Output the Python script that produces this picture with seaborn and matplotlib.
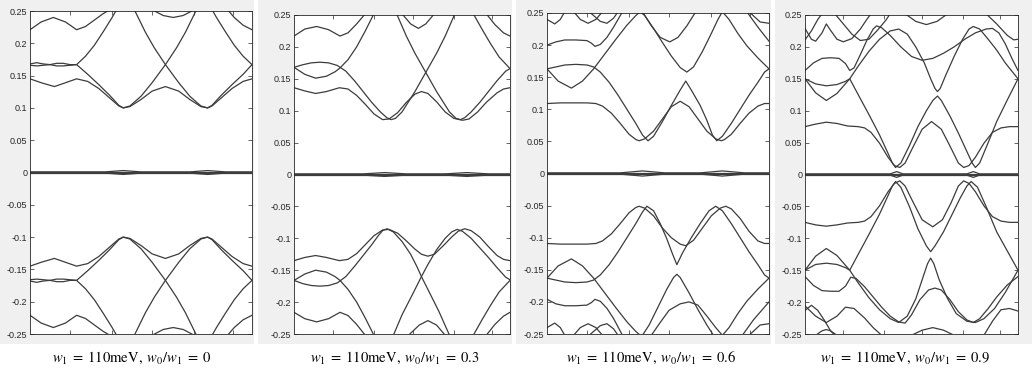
import numpy as np
import pandas as pd
import seaborn as sns
import matplotlib.pyplot as plt
from matplotlib.patches import Rectangle

# ---- band data, k runs 0..1 along the path, energies in eV ----
P1_UP = [
    [(0, .145), (.05, .139), (.11, .133), (.16, .139), (.21, .145), (.26, .141), (.31, .130), (.36, .115), (.40, .103), (.42, .100), (.45, .102), (.50, .113), (.55, .126), (.61, .133), (.67, .126), (.72, .113), (.77, .102), (.80, .100), (.82, .103), (.86, .115), (.91, .130), (.96, .141), (1, .145)],
    [(0, .168), (.03, .170), (.06, .168), (.09, .167), (.12, .169), (.15, .169), (.18, .167), (.21, .167), (.26, .152), (.31, .136), (.36, .119), (.40, .104), (.42, .100), (.45, .103), (.50, .118), (.55, .139), (.61, .167), (.66, .193), (.70, .217), (.75, .252)],
    [(.47, .252), (.52, .217), (.56, .193), (.61, .167), (.67, .139), (.72, .118), (.77, .103), (.80, .100), (.82, .104), (.86, .119), (.91, .136), (.96, .152), (1, .167)],
    [(0, .166), (.03, .165), (.06, .166), (.09, .167), (.12, .165), (.15, .165), (.18, .166), (.21, .167), (.25, .180), (.29, .197), (.33, .218), (.37, .240), (.39, .252)],
    [(0, .221), (.05, .233), (.105, .240), (.16, .233), (.21, .221), (.25, .226), (.29, .236), (.33, .246), (.36, .252)],
    [(.55, .252), (.60, .243), (.645, .240), (.69, .243), (.74, .252)],
    [(.82, .252), (.84, .240), (.88, .218), (.92, .197), (.96, .180), (1, .167)],
    [(.89, .252), (.92, .240), (.96, .228), (1, .221)],
]
P1_LO = [
    [(0, -.145), (.05, -.139), (.11, -.133), (.16, -.139), (.21, -.145), (.26, -.141), (.31, -.130), (.36, -.115), (.40, -.103), (.42, -.100), (.45, -.102), (.50, -.113), (.55, -.126), (.61, -.133), (.67, -.126), (.72, -.113), (.77, -.102), (.80, -.100), (.82, -.103), (.86, -.115), (.91, -.130), (.96, -.141), (1, -.145)],
    [(0, -.168), (.03, -.170), (.06, -.168), (.09, -.167), (.12, -.169), (.15, -.169), (.18, -.167), (.21, -.167), (.26, -.152), (.31, -.136), (.36, -.119), (.40, -.104), (.42, -.100), (.45, -.103), (.50, -.118), (.55, -.139), (.61, -.167), (.66, -.193), (.70, -.217), (.75, -.252)],
    [(.47, -.252), (.52, -.217), (.56, -.193), (.61, -.167), (.67, -.139), (.72, -.118), (.77, -.103), (.80, -.100), (.82, -.104), (.86, -.119), (.91, -.136), (.96, -.152), (1, -.167)],
    [(0, -.166), (.03, -.165), (.06, -.166), (.09, -.167), (.12, -.165), (.15, -.165), (.18, -.166), (.21, -.167), (.25, -.180), (.29, -.197), (.33, -.218), (.37, -.240), (.39, -.252)],
    [(0, -.221), (.05, -.233), (.105, -.240), (.16, -.233), (.21, -.221), (.25, -.226), (.29, -.236), (.33, -.246), (.36, -.252)],
    [(.55, -.252), (.60, -.243), (.645, -.240), (.69, -.243), (.74, -.252)],
    [(.82, -.252), (.84, -.240), (.88, -.218), (.92, -.197), (.96, -.180), (1, -.167)],
    [(.89, -.252), (.92, -.240), (.96, -.228), (1, -.221)],
]
P1_ZERO = [
    [(0, .0006), (1, .0006)],
    [(0, -.0006), (1, -.0006)],
    [(0, .001), (.34, .001), (.42, .003), (.50, .001), (.72, .001), (.80, .003), (.88, .001), (1, .001)],
    [(0, -.001), (.34, -.001), (.42, -.003), (.50, -.001), (.72, -.001), (.80, -.003), (.88, -.001), (1, -.001)],
]

P2_UP = [
    [(0, .136), (.05, .131), (.10, .127), (.15, .130), (.21, .136), (.25, .134), (.29, .124), (.33, .110), (.37, .095), (.41, .086), (.44, .087), (.48, .097), (.52, .113), (.56, .126), (.59, .130), (.62, .127), (.66, .114), (.70, .098), (.74, .088), (.78, .085), (.81, .087), (.85, .098), (.89, .113), (.94, .128), (.97, .134), (1, .136)],
    [(0, .168), (.04, .172), (.08, .175), (.12, .176), (.16, .175), (.20, .171), (.24, .162), (.28, .147), (.32, .130), (.36, .113), (.40, .098), (.43, .089), (.45, .086), (.47, .088), (.50, .098), (.53, .114), (.56, .130), (.59, .148), (.62, .166), (.66, .190), (.70, .217), (.745, .252)],
    [(.475, .252), (.52, .217), (.56, .190), (.60, .166), (.63, .148), (.66, .130), (.69, .114), (.72, .098), (.75, .088), (.77, .086), (.79, .089), (.82, .098), (.86, .113), (.90, .130), (.94, .147), (.98, .162), (1, .166)],
    [(0, .168), (.05, .157), (.10, .151), (.15, .154), (.19, .161), (.213, .167), (.25, .180), (.29, .200), (.33, .225), (.37, .252)],
    [(0, .217), (.05, .228), (.105, .232), (.16, .227), (.213, .217), (.25, .222), (.29, .236), (.33, .252)],
    [(.50, .252), (.54, .236), (.576, .229), (.61, .236), (.65, .252)],
    [(.83, .252), (.87, .228), (.91, .205), (.95, .184), (1, .166)],
    [(.89, .252), (.93, .235), (.97, .222), (1, .217)],
]
P2_LO = [
    [(0, -.135), (.05, -.130), (.10, -.127), (.15, -.130), (.21, -.135), (.25, -.133), (.29, -.124), (.33, -.110), (.37, -.096), (.41, -.087), (.44, -.086), (.48, -.092), (.52, -.104), (.56, -.117), (.59, -.125), (.62, -.128), (.65, -.125), (.69, -.112), (.73, -.098), (.76, -.089), (.79, -.085), (.82, -.088), (.86, -.098), (.90, -.113), (.94, -.127), (.97, -.133), (1, -.135)],
    [(0, -.166), (.04, -.171), (.08, -.174), (.12, -.175), (.16, -.174), (.20, -.170), (.24, -.160), (.28, -.144), (.32, -.127), (.36, -.110), (.39, -.096), (.41, -.088), (.43, -.085), (.46, -.090), (.50, -.105), (.54, -.125), (.57, -.145), (.59, -.160), (.63, -.187), (.67, -.214), (.72, -.252)],
    [(.46, -.252), (.50, -.220), (.55, -.187), (.59, -.160), (.62, -.141), (.66, -.118), (.70, -.100), (.73, -.090), (.755, -.086), (.78, -.089), (.82, -.100), (.86, -.115), (.90, -.130), (.94, -.146), (.98, -.161), (1, -.165)],
    [(0, -.166), (.05, -.156), (.10, -.150), (.15, -.153), (.19, -.160), (.213, -.166), (.25, -.180), (.29, -.200), (.33, -.225), (.37, -.252)],
    [(0, -.216), (.05, -.226), (.105, -.231), (.16, -.226), (.213, -.216), (.25, -.221), (.29, -.235), (.33, -.252)],
    [(.53, -.252), (.58, -.236), (.62, -.229), (.66, -.236), (.70, -.252)],
    [(.83, -.252), (.87, -.228), (.91, -.205), (.95, -.184), (1, -.166)],
    [(.89, -.252), (.93, -.235), (.97, -.222), (1, -.216)],
]
P2_ZERO = [
    [(0, .0006), (1, .0006)],
    [(0, -.0006), (1, -.0006)],
    [(0, .001), (.32, .001), (.42, .003), (.52, .001), (.70, .001), (.80, .003), (.90, .001), (1, .001)],
    [(0, -.001), (.32, -.001), (.42, -.003), (.52, -.001), (.70, -.001), (.80, -.003), (.90, -.001), (1, -.001)],
]

P3_UP = [
    [(0, .109), (.06, .110), (.12, .110), (.18, .110), (.22, .109), (.25, .105), (.29, .094), (.33, .078), (.37, .061), (.40, .053), (.415, .051), (.44, .054), (.48, .066), (.52, .085), (.56, .104), (.60, .1125), (.64, .104), (.68, .085), (.72, .066), (.76, .054), (.785, .051), (.80, .053), (.83, .061), (.87, .078), (.91, .094), (.95, .105), (.98, .109), (1, .109)],
    [(0, .163), (.04, .166), (.08, .169), (.13, .170), (.18, .169), (.21, .166), (.24, .158), (.28, .142), (.32, .122), (.36, .100), (.40, .078), (.43, .060), (.455, .051), (.48, .058), (.52, .081), (.56, .106), (.60, .130), (.625, .144), (.65, .130), (.69, .106), (.72, .083), (.745, .060), (.765, .051), (.79, .058), (.83, .078), (.87, .100), (.91, .122), (.95, .142), (.98, .158), (1, .163)],
    [(0, .163), (.05, .144), (.11, .133), (.16, .144), (.21, .163), (.26, .186), (.31, .209), (.36, .231), (.40, .246), (.42, .252), (.44, .246), (.48, .226), (.52, .204), (.56, .183), (.60, .165), (.63, .158), (.66, .166), (.70, .190), (.74, .218), (.77, .240), (.79, .252), (.82, .240), (.86, .218), (.90, .199), (.95, .180), (1, .163)],
    [(0, .200), (.04, .205), (.08, .208), (.13, .208), (.18, .207), (.20, .203), (.216, .198), (.24, .201), (.27, .212), (.30, .228), (.34, .252)],
    [(.43, .252), (.47, .230), (.51, .212), (.553, .205), (.59, .212), (.63, .230), (.67, .252)],
    [(0, .240), (.035, .233), (.06, .240), (.08, .252)],
    [(.12, .252), (.15, .240), (.185, .234), (.22, .240), (.25, .252)],
    [(.19, .252), (.24, .237), (.27, .234), (.30, .242), (.32, .252)],
    [(.91, .252), (.96, .236), (1, .234)],
    [(.90, .252), (.95, .228), (1, .206)],
]
P3_LO = [
    [(0, -.109), (.06, -.110), (.12, -.110), (.18, -.110), (.22, -.109), (.25, -.105), (.29, -.094), (.33, -.078), (.37, -.061), (.40, -.053), (.415, -.051), (.44, -.054), (.48, -.066), (.52, -.085), (.56, -.100), (.60, -.110), (.625, -.1125), (.66, -.104), (.70, -.085), (.74, -.066), (.78, -.054), (.805, -.051), (.83, -.055), (.87, -.070), (.91, -.090), (.95, -.105), (.98, -.109), (1, -.109)],
    [(0, -.163), (.04, -.166), (.08, -.169), (.13, -.170), (.18, -.169), (.21, -.166), (.24, -.158), (.28, -.142), (.32, -.122), (.36, -.100), (.40, -.078), (.43, -.060), (.45, -.051), (.48, -.058), (.51, -.078), (.54, -.102), (.565, -.125), (.585, -.142), (.61, -.124), (.65, -.100), (.69, -.078), (.73, -.058), (.76, -.051), (.79, -.058), (.83, -.078), (.87, -.100), (.91, -.122), (.95, -.142), (.98, -.158), (1, -.163)],
    [(0, -.163), (.05, -.144), (.11, -.133), (.16, -.144), (.21, -.163), (.26, -.186), (.31, -.209), (.36, -.231), (.40, -.246), (.42, -.252)],
    [(.43, -.252), (.46, -.236), (.50, -.208), (.54, -.180), (.57, -.162), (.585, -.157), (.60, -.162), (.64, -.186), (.68, -.212), (.72, -.236), (.75, -.252)],
    [(.79, -.252), (.82, -.240), (.86, -.218), (.90, -.199), (.95, -.180), (1, -.163)],
    [(0, -.196), (.04, -.203), (.08, -.206), (.13, -.206), (.18, -.205), (.20, -.201), (.216, -.196), (.24, -.199), (.27, -.210), (.30, -.226), (.34, -.252)],
    [(.47, -.252), (.51, -.232), (.55, -.213), (.60, -.203), (.64, -.200), (.68, -.205), (.72, -.222), (.76, -.240), (.79, -.252)],
    [(0, -.240), (.035, -.233), (.06, -.240), (.08, -.252)],
    [(.12, -.252), (.15, -.240), (.185, -.234), (.22, -.240), (.25, -.252)],
    [(.19, -.252), (.24, -.237), (.27, -.234), (.30, -.242), (.32, -.252)],
    [(.91, -.252), (.96, -.236), (1, -.234)],
    [(.88, -.252), (.93, -.228), (1, -.200)],
]
P3_ZERO = [
    [(0, .0008), (1, .0008)],
    [(0, -.0008), (1, -.0008)],
    [(0, .001), (.33, .001), (.43, .004), (.53, .001), (.69, .001), (.79, .004), (.89, .001), (1, .001)],
    [(0, -.001), (.33, -.001), (.43, -.004), (.53, -.001), (.69, -.001), (.79, -.004), (.89, -.001), (1, -.001)],
]

P4_UP = [
    [(0, .075), (.05, .079), (.10, .082), (.15, .080), (.20, .076), (.25, .075), (.28, .073), (.31, .066), (.35, .049), (.39, .027), (.42, .014), (.445, .011), (.47, .018), (.51, .045), (.55, .071), (.594, .083), (.64, .071), (.68, .045), (.72, .018), (.745, .011), (.77, .014), (.80, .027), (.84, .049), (.88, .066), (.92, .073), (.96, .075), (1, .075)],
    [(0, .150), (.05, .142), (.10, .139), (.15, .141), (.19, .146), (.21, .150), (.25, .125), (.30, .094), (.35, .062), (.39, .033), (.41, .018), (.425, .011), (.45, .018), (.49, .045), (.53, .075), (.57, .100), (.60, .116), (.622, .123), (.64, .116), (.68, .092), (.72, .065), (.76, .036), (.785, .018), (.80, .011), (.82, .018), (.86, .050), (.90, .083), (.95, .117), (1, .150)],
    [(0, .150), (.05, .128), (.10, .116), (.15, .127), (.21, .150), (.25, .170), (.30, .193), (.35, .212), (.40, .225), (.44, .228), (.48, .220), (.52, .200), (.56, .175), (.59, .150), (.61, .135), (.622, .130), (.635, .135), (.66, .155), (.70, .185), (.74, .212), (.77, .228), (.79, .232), (.82, .228), (.86, .212), (.90, .195), (.94, .175), (1, .150)],
    [(0, .163), (.04, .175), (.08, .182), (.12, .183), (.16, .182), (.19, .174), (.21, .163), (.23, .167), (.26, .188), (.29, .210), (.32, .228), (.336, .233), (.36, .230), (.40, .218), (.45, .200), (.50, .185), (.55, .179), (.60, .182), (.65, .190), (.70, .200), (.75, .212), (.80, .222), (.85, .228), (.88, .229), (.91, .222), (.94, .205), (.97, .183), (1, .163)],
    [(0, .229), (.03, .212), (.05, .209), (.08, .222), (.10, .236), (.12, .226), (.15, .212), (.18, .208), (.22, .213), (.26, .228), (.29, .243), (.31, .252)],
    [(0, .211), (.03, .225), (.06, .243), (.08, .252)],
    [(.14, .252), (.18, .236), (.22, .220), (.26, .210), (.30, .212), (.34, .226), (.38, .242), (.40, .252)],
    [(.47, .252), (.52, .240), (.57, .235), (.62, .240), (.67, .252)],
    [(.85, .252), (.90, .236), (.95, .218), (.98, .211), (1, .212)],
]
P4_LO = [
    [(0, -.075), (.05, -.079), (.10, -.081), (.15, -.079), (.20, -.076), (.25, -.075), (.28, -.073), (.31, -.066), (.35, -.049), (.39, -.027), (.42, -.014), (.445, -.010), (.47, -.018), (.51, -.045), (.55, -.071), (.60, -.082), (.645, -.071), (.685, -.045), (.72, -.018), (.745, -.010), (.77, -.014), (.80, -.027), (.84, -.049), (.88, -.066), (.92, -.073), (.96, -.075), (1, -.075)],
    [(0, -.150), (.05, -.141), (.10, -.139), (.15, -.141), (.19, -.146), (.21, -.150), (.25, -.125), (.30, -.094), (.35, -.062), (.39, -.033), (.41, -.018), (.425, -.011), (.45, -.020), (.49, -.050), (.53, -.085), (.57, -.112), (.59, -.121), (.61, -.112), (.65, -.090), (.69, -.063), (.73, -.036), (.76, -.018), (.78, -.011), (.81, -.020), (.85, -.050), (.90, -.090), (.95, -.120), (1, -.150)],
    [(0, -.150), (.05, -.128), (.10, -.116), (.15, -.127), (.21, -.150), (.25, -.170), (.30, -.193), (.35, -.212), (.40, -.226), (.44, -.232), (.48, -.222), (.52, -.195), (.55, -.165), (.575, -.140), (.59, -.131), (.605, -.140), (.63, -.165), (.67, -.195), (.71, -.218), (.76, -.230), (.80, -.232), (.84, -.226), (.89, -.210), (.94, -.185), (1, -.150)],
    [(0, -.160), (.04, -.174), (.08, -.182), (.12, -.183), (.16, -.183), (.19, -.175), (.215, -.161), (.24, -.163), (.28, -.176), (.32, -.192), (.36, -.208), (.40, -.222), (.44, -.231), (.47, -.233), (.50, -.220), (.54, -.196), (.58, -.181), (.61, -.178), (.64, -.181), (.68, -.196), (.72, -.215), (.76, -.228), (.79, -.232), (.82, -.226), (.86, -.210), (.90, -.192), (.95, -.173), (1, -.160)],
    [(0, -.206), (.05, -.222), (.10, -.232), (.15, -.222), (.19, -.208), (.23, -.210), (.28, -.225), (.32, -.240), (.36, -.252)],
    [(0, -.213), (.03, -.205), (.06, -.213), (.09, -.228), (.12, -.245), (.14, -.252)],
    [(.05, -.252), (.08, -.245), (.10, -.243), (.12, -.245), (.15, -.252)],
    [(.50, -.252), (.55, -.244), (.60, -.240), (.65, -.244), (.70, -.252)],
    [(.84, -.252), (.88, -.230), (.92, -.212), (.96, -.210), (1, -.214)],
]
P4_ZERO = [
    [(0, .0008), (1, .0008)],
    [(0, -.0008), (1, -.0008)],
    [(0, .001), (.40, .001), (.43, .0045), (.46, .001), (.76, .001), (.79, .0045), (.82, .001), (1, .001)],
    [(0, -.001), (.40, -.001), (.43, -.0045), (.46, -.001), (.76, -.001), (.79, -.0045), (.82, -.001), (1, -.001)],
]

TITLES = [r'$w_1\;=\;110\mathrm{meV},\;w_0/w_1\;=\;0$',
          r'$w_1\;=\;110\mathrm{meV},\;w_0/w_1\;=\;0.3$',
          r'$w_1\;=\;110\mathrm{meV},\;w_0/w_1\;=\;0.6$',
          r'$w_1\;=\;110\mathrm{meV},\;w_0/w_1\;=\;0.9$']
Y_TICKS = [0.25, 0.2, 0.15, 0.1, 0.05, 0, -0.05, -0.1, -0.15, -0.2, -0.25]
Y_LABELS = ['0.25', '0.2', '0.15', '0.1', '0.05', '0', '-0.05', '-0.1', '-0.15', '-0.2', '-0.25']
X_TICKS = [0.18, 0.37, 0.55, 0.74, 0.915]

PANELS = [P1_UP + P1_LO + P1_ZERO, P2_UP + P2_LO + P2_ZERO,
          P3_UP + P3_LO + P3_ZERO, P4_UP + P4_LO + P4_ZERO]

# layout in pixels: (left, top, right, bottom) of each axes, caption centre x
W, H = 1032, 377
AX_PX = [(30, 11, 252, 334), (294, 15, 510, 334), (547, 13, 769, 334), (805, 15, 1018, 334)]
BG_PX = [(0, 254), (258, 512), (516, 771), (775, 1032)]
CAP_X = [132, 395, 651, 905]

sns.set_theme(style='white')
plt.rcParams['font.family'] = ['Liberation Sans', 'DejaVu Sans']
plt.rcParams['mathtext.fontset'] = 'stix'

fig = plt.figure(figsize=(W / 100, H / 100), dpi=100)
fig.patch.set_facecolor('white')
for x0, x1 in BG_PX:
    fig.patches.append(Rectangle((x0 / W, 1 - 344 / H), (x1 - x0) / W, 344 / H,
                                 transform=fig.transFigure, facecolor='#f0f0f0',
                                 edgecolor='none', zorder=-10))

for i, curves in enumerate(PANELS):
    l, t, r, b = AX_PX[i]
    ax = fig.add_axes([l / W, 1 - b / H, (r - l) / W, (b - t) / H])
    ax.set_zorder(5)
    rows = []
    for cid, pts in enumerate(curves):
        for k, e in pts:
            rows.append({'k': k, 'E': e, 'curve': cid})
    df = pd.DataFrame(rows)
    sns.lineplot(data=df, x='k', y='E', units='curve', estimator=None, sort=False,
                 color='#3c3c3c', linewidth=0.9, ax=ax, legend=False)
    ax.set_facecolor('white')
    ax.set_xlim(0, 1)
    ax.set_ylim(-0.25, 0.25)
    ax.set_xticks(X_TICKS)
    ax.set_xticklabels([])
    ax.set_yticks(Y_TICKS)
    ax.set_yticklabels(Y_LABELS)
    ax.set_xlabel('')
    ax.set_ylabel('')
    ax.tick_params(direction='in', top=True, right=True, bottom=True, left=True,
                   length=3, width=0.5, labelsize=6.5, pad=2, colors='#262626')
    for sp in ax.spines.values():
        sp.set_color('#262626')
        sp.set_linewidth(0.6)
    fig.text(CAP_X[i] / W, 1 - 358 / H, TITLES[i], ha='center', va='center',
             fontsize=10.5, color='black')

fig.savefig('out.png', dpi=100)
